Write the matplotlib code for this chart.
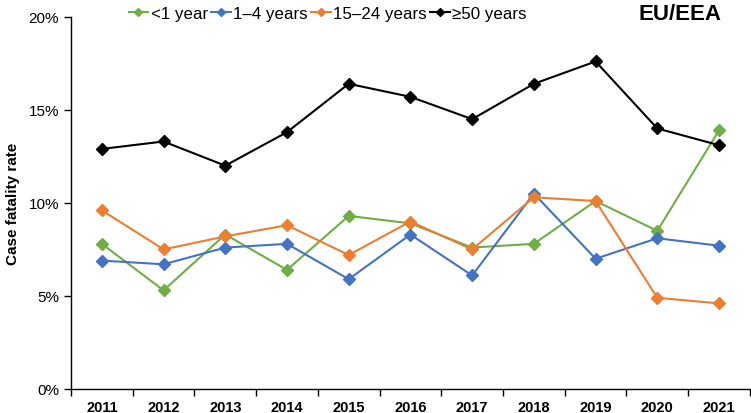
import numpy as np
import matplotlib.pyplot as plt
from matplotlib.ticker import FuncFormatter, FixedLocator

plt.rcParams['font.family'] = ['Liberation Sans', 'DejaVu Sans']

years = ["2011", "2012", "2013", "2014", "2015", "2016", "2017", "2018", "2019", "2020", "2021"]
under1 = [7.8, 5.3, 8.3, 6.4, 9.3, 8.9, 7.6, 7.8, 10.1, 8.5, 13.9]
y1_4 = [6.9, 6.7, 7.6, 7.8, 5.9, 8.3, 6.1, 10.5, 7.0, 8.1, 7.7]
y15_24 = [9.6, 7.5, 8.2, 8.8, 7.2, 9.0, 7.5, 10.3, 10.1, 4.9, 4.6]
over50 = [12.9, 13.3, 12.0, 13.8, 16.4, 15.7, 14.5, 16.4, 17.6, 14.0, 13.1]

series = [
    ("<1 year", under1, "#70AD47"),
    ("1\u20134 years", y1_4, "#4472C4"),
    ("15\u201324 years", y15_24, "#ED7D31"),
    ("\u226550 years", over50, "black"),
]

fig = plt.figure(figsize=(7.51, 4.14), dpi=100)
ax = fig.add_axes([0.0945, 0.058, 0.904, 0.899])

x = np.arange(len(years))
for label, vals, col in series:
    ax.plot(x, vals, color=col, lw=1.5, marker="D", ms=6, label=label)

ax.set_xlim(-0.5, len(years) - 0.5)
ax.set_ylim(0, 20)
ax.set_yticks([0, 5, 10, 15, 20])
ax.yaxis.set_major_formatter(FuncFormatter(lambda v, p: f"{v:.0f}%"))
ax.set_xticks(x)
ax.set_xticklabels(years, fontweight="bold", fontsize=10.5)
ax.xaxis.set_minor_locator(FixedLocator(np.arange(-0.5, len(years), 1)))
ax.tick_params(axis="x", which="major", length=0, pad=8)
ax.tick_params(axis="x", which="minor", length=5, width=1)
ax.tick_params(axis="y", length=5, width=1, labelsize=11)
for s in ["top", "right"]:
    ax.spines[s].set_visible(False)
ax.spines["left"].set_linewidth(1)
ax.spines["bottom"].set_linewidth(1)
ax.set_ylabel("Case fatality rate", fontweight="bold", fontsize=11, labelpad=6)

ax.legend(loc="center", bbox_to_anchor=(0.378, 1.01), ncol=4, frameon=False,
          fontsize=12.2, handlelength=1.15, handletextpad=0.15, columnspacing=0.2,
          markerscale=0.7, borderaxespad=0, borderpad=0)
fig.text(0.905, 0.966, "EU/EEA", fontweight="bold", fontsize=16, ha="center", va="center")

fig.savefig("out.png", dpi=100)
